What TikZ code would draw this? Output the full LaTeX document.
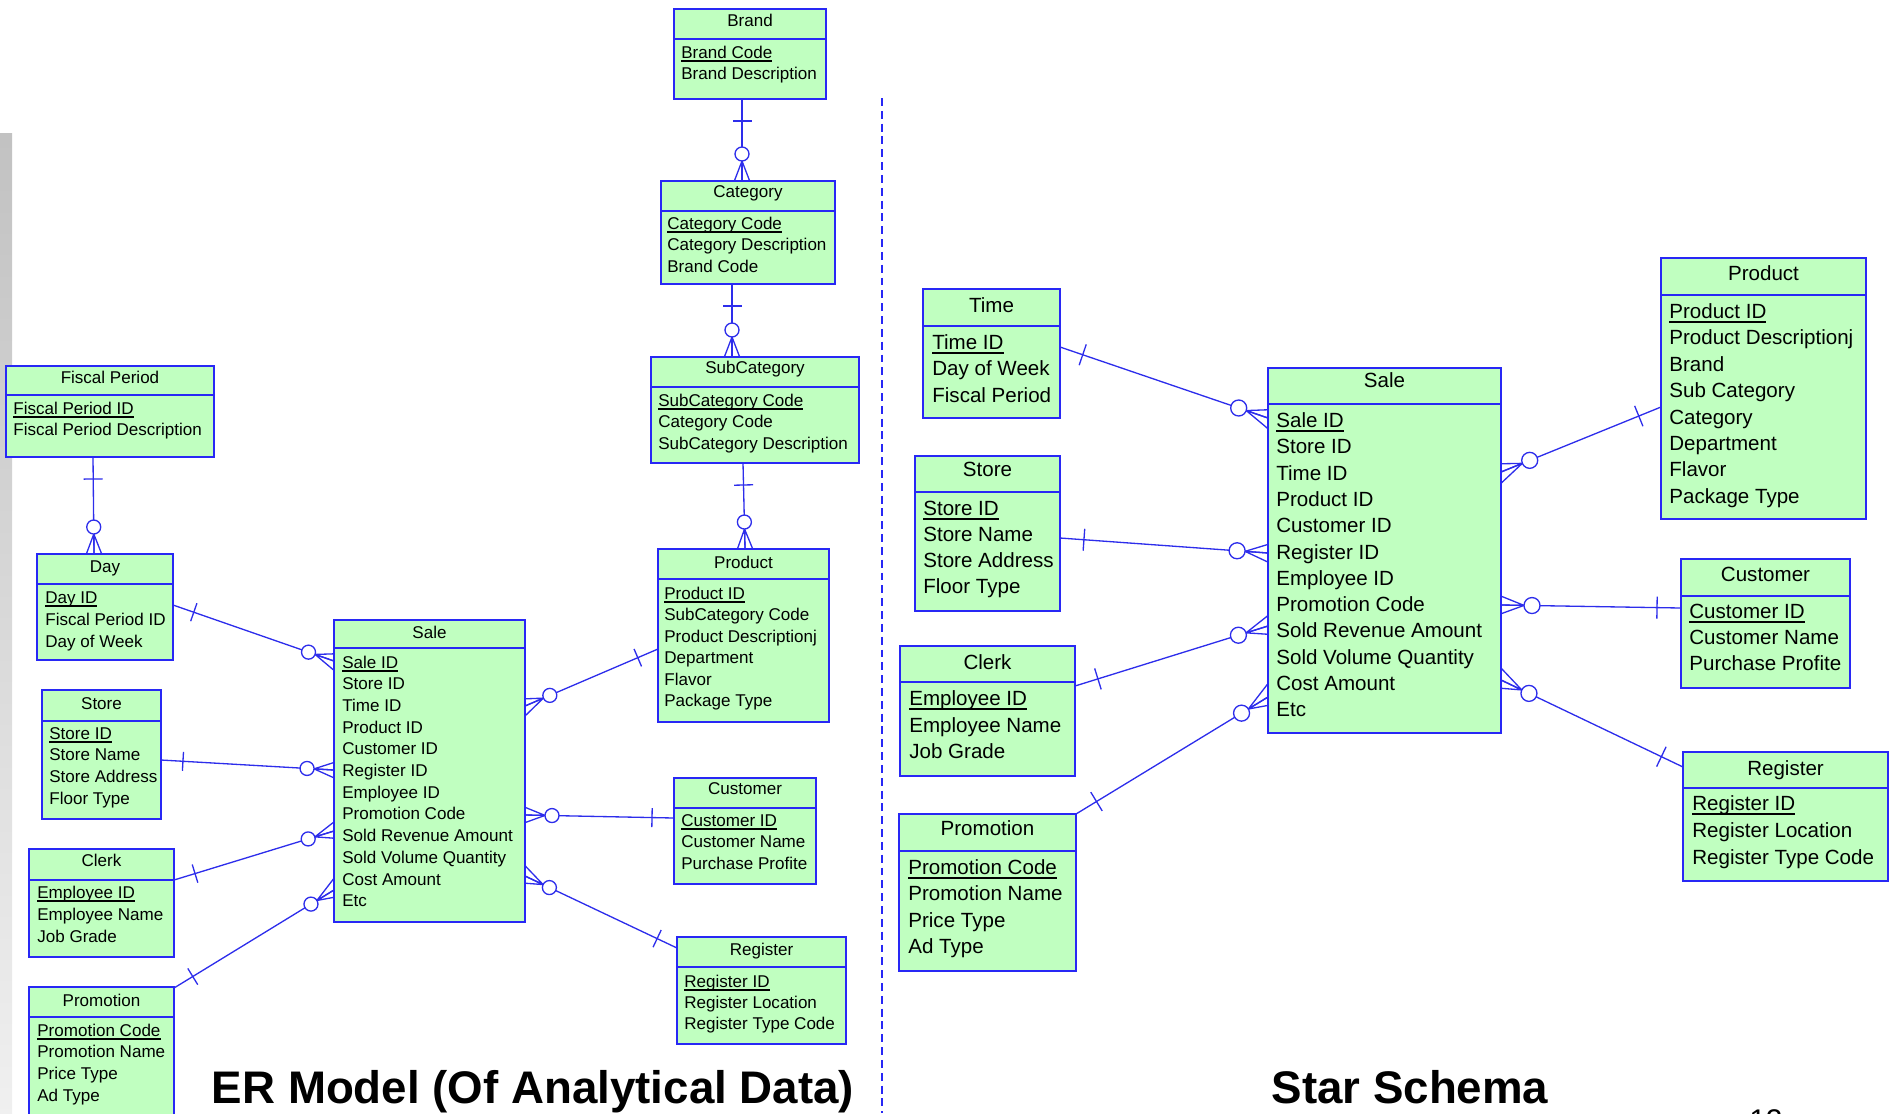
\documentclass[tikz,border=0pt]{standalone}
\usepackage{fontspec}
\setmainfont{Liberation Sans}
\usetikzlibrary{calc}

\definecolor{boxblue}{RGB}{40,40,245}
\definecolor{linkblue}{RGB}{45,45,235}
\definecolor{boxgreen}{RGB}{192,255,192}

\pgfdeclarelayer{links}
\pgfsetlayers{links,main}

\newcommand\fontL{\fontsize{9.7}{11.6}\selectfont}
\newcommand\fontS{\fontsize{11.7}{14}\selectfont}
% primary key: text with a firm underline
\newcommand\pkey[1]{\setbox0\hbox{#1}\rlap{\raisebox{-0.21em}{\rule{\wd0}{0.1em}}}\box0}

\tikzset{
  ebox/.style={draw=boxblue, fill=boxgreen, line width=1pt, inner sep=0pt, outer sep=0pt, anchor=north west},
  divl/.style={draw=boxblue, line width=0.9pt},
  rowL/.style={anchor=base west, inner sep=0pt, font=\fontL},
  rowS/.style={anchor=base west, inner sep=0pt, font=\fontS},
  headL/.style={anchor=base, inner sep=0pt, font=\fontL},
  headS/.style={anchor=base, inner sep=0pt, font=\fontS},
  conn/.style={draw=linkblue, line width=0.75pt},
  sepline/.style={draw=boxblue, line width=1.1pt, dash pattern=on 4.5pt off 2.8pt},
  heading/.style={anchor=base, inner sep=0pt, font=\fontsize{26}{30}\selectfont\bfseries},
}

% entity box: id, left, top, right, bottom, divider y, size (L/S), title, title baseline
\newcommand\entity[9]{%
  \node[ebox, minimum width={(#4-#2)*0.02cm}, minimum height={(#5-#3)*0.02cm}] (#1) at (#2,#3) {};
  \draw[divl] ($(#1.north west)+(0,{#6-#3})$) -- ($(#1.north east)+(0,{#6-#3})$);
  \node[head#7] (#1-h) at ($(#1.north)+(0,{#9-#3})$) {#8};
}
% attribute rows: id, size, x, first baseline, row step, key attribute, other attributes
\newcommand\entrows[7]{%
  \node[row#2] (#1-k) at (#3,#4) {\pkey{#6}};
  \foreach \rowtext [count=\i] in {#7} {\node[row#2] (#1-r\i) at (#3,{#4+\i*#5}) {\rowtext};}
}
% one-to-many link: one end, many end, ring radius, foot length, ring centre distance, bar distance, bar half length
\newcommand\relation[7]{%
  \coordinate (oneE) at #1;
  \coordinate (manyE) at #2;
  \coordinate (footP) at ($(manyE)!#4!(oneE)$);
  \coordinate (ringC) at ($(manyE)!#5!(oneE)$);
  \coordinate (tickP) at ($(oneE)!#6!(manyE)$);
  \draw[conn] (oneE) -- (manyE);
  \draw[conn] ($(tickP)!#7!90:(manyE)$) -- ($(tickP)!#7!-90:(manyE)$);
  \draw[conn] (footP) -- ($(footP)!2.5!(manyE)$)
              (footP) -- ($(footP)!2.5!21:(manyE)$)
              (footP) -- ($(footP)!2.5!-21:(manyE)$);
  \draw[conn, fill=white] (ringC) circle[radius=#3];
}
\newcommand\relL[2]{\relation{#1}{#2}{0.14cm}{0.4cm}{0.54cm}{0.44cm}{0.19cm}}
\newcommand\relS[2]{\relation{#1}{#2}{0.16cm}{0.46cm}{0.62cm}{0.48cm}{0.22cm}}

\begin{document}
\begin{tikzpicture}[x=0.02cm, y=-0.02cm]
\useasboundingbox (0,0) rectangle (1892,1113);

% slide edge strip
\shade[top color=black!24, middle color=black!19, bottom color=black!6] (0,133) rectangle (12,1113);

% ---------------- ER model ----------------
\entity{brand}{674}{9}{826}{99}{39}{L}{Brand}{26}
\entrows{brand}{L}{681}{58}{21}{Brand Code}{Brand Description}

\entity{lcat}{661}{181}{835}{284}{211}{L}{Category}{197}
\entrows{lcat}{L}{667}{229}{21.5}{Category Code}{Category Description, Brand Code}

\entity{lsub}{651}{357}{859}{463}{387}{L}{SubCategory}{373}
\entrows{lsub}{L}{658}{406}{21.5}{SubCategory Code}{Category Code, SubCategory Description}

\entity{fisc}{6}{366}{214}{457}{395}{L}{Fiscal Period}{383}
\entrows{fisc}{L}{13}{414}{21}{Fiscal Period ID}{Fiscal Period Description}

\entity{day}{37}{554}{173}{660}{584}{L}{Day}{572}
\entrows{day}{L}{45}{603}{22}{Day ID}{Fiscal Period ID, Day of Week}

\entity{lprod}{658}{549}{829}{722}{579}{L}{Product}{568}
\entrows{lprod}{L}{664}{599}{21.5}{Product ID}{SubCategory Code, Product Descriptionj, Department, Flavor, Package Type}

\entity{lsale}{334}{620}{525}{922}{648}{L}{Sale}{638}
\entrows{lsale}{L}{342}{668}{21.7}{Sale ID}{Store ID, Time ID, Product ID, Customer ID, Register ID, Employee ID, Promotion Code, Sold Revenue Amount, Sold Volume Quantity, Cost Amount, Etc}

\entity{lstore}{42}{690}{161}{819}{721}{L}{Store}{709}
\entrows{lstore}{L}{49}{739}{21.7}{Store ID}{Store Name, Store Address, Floor Type}

\entity{lcust}{674}{778}{816}{884}{808}{L}{Customer}{794}
\entrows{lcust}{L}{681}{826}{21.5}{Customer ID}{Customer Name, Purchase Profite}

\entity{lclerk}{29}{849}{174}{957}{880}{L}{Clerk}{866}
\entrows{lclerk}{L}{37}{898}{22}{Employee ID}{Employee Name, Job Grade}

\entity{lreg}{677}{937}{846}{1044}{967}{L}{Register}{955}
\entrows{lreg}{L}{684}{987}{21}{Register ID}{Register Location, Register Type Code}

\begin{scope}
\clip (0,0) rectangle (1892,1113);
\entity{lpromo}{29}{987}{174}{1130}{1017}{L}{Promotion}{1006}
\entrows{lpromo}{L}{37}{1036}{21.7}{Promotion Code}{Promotion Name, Price Type, Ad Type}
\node[anchor=base west, inner sep=0pt, font=\fontsize{17}{20}\selectfont] (pagenum) at (1749,1130) {12};
\end{scope}

% ---------------- star schema ----------------
\entity{stime}{923}{289}{1060}{418}{326}{S}{Time}{312.5}
\entrows{stime}{S}{932}{349.5}{26.3}{Time ID}{Day of Week, Fiscal Period}

\entity{sstore}{915}{456}{1060}{611}{492}{S}{Store}{476.5}
\entrows{sstore}{S}{923}{515.5}{26}{Store ID}{Store Name, Store Address, Floor Type}

\entity{sclerk}{900}{646}{1075}{776}{682}{S}{Clerk}{669.5}
\entrows{sclerk}{S}{909}{705.5}{26.5}{Employee ID}{Employee Name, Job Grade}

\entity{spromo}{899}{814}{1076}{971}{851}{S}{Promotion}{835.5}
\entrows{spromo}{S}{908}{874.5}{26.3}{Promotion Code}{Promotion Name, Price Type, Ad Type}

\entity{ssale}{1268}{368}{1501}{733}{404}{S}{Sale}{387.5}
\entrows{ssale}{S}{1276}{427.5}{26.3}{Sale ID}{Store ID, Time ID, Product ID, Customer ID, Register ID, Employee ID, Promotion Code, Sold Revenue Amount, Sold Volume Quantity, Cost Amount, Etc}

\entity{sprod}{1661}{258}{1866}{519}{295}{S}{Product}{280.5}
\entrows{sprod}{S}{1669}{318.5}{26.4}{Product ID}{Product Descriptionj, Brand, Sub Category, Category, Department, Flavor, Package Type}

\entity{scust}{1681}{559}{1850}{688}{596}{S}{Customer}{581.5}
\entrows{scust}{S}{1689}{618.5}{26}{Customer ID}{Customer Name, Purchase Profite}

\entity{sreg}{1683}{752}{1888}{881}{788}{S}{Register}{775.5}
\entrows{sreg}{S}{1692}{810.5}{27}{Register ID}{Register Location, Register Type Code}

% ---------------- relationships ----------------
\begin{pgfonlayer}{links}
\relL{($(brand.south west)+(68,0)$)}{($(lcat.north west)+(81,0)$)}
\relL{($(lcat.south west)+(71,0)$)}{($(lsub.north west)+(81,0)$)}
\relL{($(lsub.south west)+(92,0)$)}{($(lprod.north west)+(87,0)$)}
\relL{($(fisc.south west)+(87,0)$)}{($(day.north west)+(57,0)$)}
\relL{($(day.north east)+(0,51)$)}{($(lsale.north west)+(0,41)$)}
\relL{($(lstore.north east)+(0,70)$)}{($(lsale.north west)+(0,150)$)}
\relL{($(lclerk.north east)+(0,31)$)}{($(lsale.north west)+(0,211)$)}
\relL{($(lpromo.north east)+(0,1)$)}{($(lsale.north west)+(0,270)$)}
\relL{($(lprod.north west)+(0,100)$)}{($(lsale.north east)+(0,86)$)}
\relL{($(lcust.north west)+(0,40)$)}{($(lsale.north east)+(0,195)$)}
\relL{($(lreg.north west)+(0,11)$)}{($(lsale.north east)+(0,256)$)}

\relS{($(stime.north east)+(0,58)$)}{($(ssale.north west)+(0,50)$)}
\relS{($(sstore.north east)+(0,82)$)}{($(ssale.north west)+(0,185)$)}
\relS{($(sclerk.north east)+(0,40)$)}{($(ssale.north west)+(0,258)$)}
\relS{($(spromo.north east)+(0,0)$)}{($(ssale.north west)+(0,329)$)}
\relS{($(sprod.north west)+(0,149)$)}{($(ssale.north east)+(0,104)$)}
\relS{($(scust.north west)+(0,49)$)}{($(ssale.north east)+(0,237)$)}
\relS{($(sreg.north west)+(0,15)$)}{($(ssale.north east)+(0,312)$)}
\end{pgfonlayer}

% divider between the two models
\coordinate (septop) at (882,98);
\coordinate (sepbot) at (882,1113);
\draw[sepline] (septop) -- (sepbot);

% headings
\node[heading] (ertitle) at (533,1103) {ER Model (Of Analytical Data)};
\node[heading] (startitle) at (1410,1103) {Star Schema};
\end{tikzpicture}
\end{document}
